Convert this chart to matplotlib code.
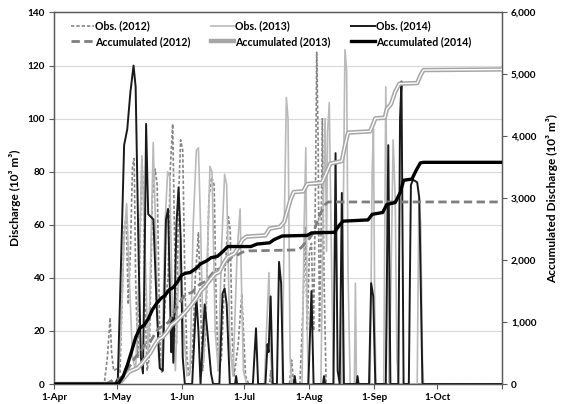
import matplotlib
matplotlib.use("Agg")
import matplotlib.pyplot as plt
from matplotlib.lines import Line2D
from matplotlib.ticker import FuncFormatter

plt.rcParams['font.family'] = ['Lato', 'DejaVu Sans']
plt.rcParams['font.weight'] = 'bold'

# x axis: days since 1-Apr
month_days = [0, 30, 61, 91, 122, 153, 183, 214]
month_labels = ["1-Apr", "1-May", "1-Jun", "1-Jul", "1-Aug", "1-Sep", "1-Oct", ""]

obs2012_day = [0, 24, 25.5, 26.8, 27.5, 28.5, 30.5, 31.5, 32.5, 33.6, 34.5, 35.5, 36.5, 37.5, 38.3, 39, 40,
               41, 42, 42.7, 43.5, 44.5, 45.5, 47, 48.3, 49.3, 50.5, 51.5, 53, 54.5, 55.5, 56.7, 57.5, 58.5,
               59.5, 60.5, 61.5, 62.5, 63.5, 64.5, 66, 67.5, 69, 70, 71, 72.5, 74, 75.3, 76.5, 77.5, 78.5,
               80, 81.5, 83.3, 84.2, 85, 86, 88, 89.7, 90.5, 91.5, 93, 103, 103.5, 104, 112.5, 113.5, 114.5,
               117.5, 119, 120, 121, 122, 123, 124, 125, 125.5, 126.2, 126.8, 127.5, 128.2, 129, 130, 214]
obs2012_val = [0, 0, 10, 25, 12, 5, 6, 4, 30, 60, 62, 30, 50, 82, 85, 40, 10,
               50, 85, 72, 30, 5, 10, 70, 81, 75, 20, 4, 30, 40, 80, 98, 60, 15,
               70, 92, 88, 40, 10, 3, 10, 40, 57, 30, 5, 20, 70, 78, 75, 30, 5,
               10, 40, 63, 58, 20, 3, 15, 34, 20, 3, 0, 0, 5, 0, 0, 9, 0,
               0, 30, 59, 20, 50, 53, 20, 80, 125, 90, 20, 50, 100, 40, 0, 0]

obs2013_day = [0, 30.5, 32, 33.5, 34.7, 36, 37.5, 39, 40.5, 42, 43.5, 45, 46, 47.4, 48.5, 50, 51.5, 53,
               54.3, 55.3, 56.5, 58, 59, 60.5, 62, 63.5, 65, 66.5, 68, 69, 70, 71.5, 73, 74.5, 75.5, 77,
               78.5, 80, 81.5, 82.5, 84, 85.5, 87.5, 88.9, 89.5, 90.5, 92, 100.5, 101.5, 102.7, 103.5,
               104.5, 109, 110, 111, 111.8, 112.8, 113.5, 118.5, 119.5, 120.3, 121, 121.5, 127.5, 128.5,
               129.5, 130.2, 130.7, 131.5, 132.5, 133.5, 137.5, 138.5, 139, 139.8, 140.5, 141.5, 143.5,
               144, 144.5, 151, 152, 152.6, 153.2, 153.8, 157.5, 158.5, 159.2, 160, 161, 162, 163, 163.8,
               164.5, 173.5, 174.3, 175.2, 176, 176.5, 214]
obs2013_val = [0, 0, 20, 55, 68, 40, 10, 5, 40, 86, 50, 10, 40, 91, 60, 10, 5, 60,
               80, 78, 30, 5, 30, 55, 20, 3, 5, 60, 88, 89, 60, 8, 40, 82, 80, 20,
               5, 50, 79, 75, 15, 3, 50, 66, 40, 5, 0, 0, 20, 42, 10,
               0, 0, 60, 108, 100, 10, 0, 0, 60, 89, 20, 0, 0, 60,
               100, 50, 95, 106, 50, 0, 0, 90, 126, 118, 40, 0, 0,
               38, 0, 0, 80, 96, 30, 0, 0, 112, 60, 0, 40, 92, 70, 10,
               0, 0, 70, 60, 10, 0, 0]

obs2014_day = [0, 29, 30.5, 32, 33.5, 35, 36.5, 38, 39, 40.5, 41.5, 42.5, 43.5, 44, 45, 47.5, 49, 50.5,
               52, 53.5, 54.5, 55.5, 56, 56.5, 57, 58.5, 59.5, 60.5, 61.5, 62.5, 66, 68, 69, 70, 72, 73,
               75, 76, 79, 80.5, 81.5, 82.5, 84, 86.5, 87, 87.5, 95, 96.5, 97.5, 101, 102, 102.5, 103.5,
               104.5, 106.5, 107.5, 108.5, 109.5, 114.5, 115, 115.5, 121.5, 123, 124, 128.5, 129, 129.5,
               133.5, 134.5, 135.5, 136.5, 137.5, 138.5, 144.5, 145, 145.5, 150.5, 151.5, 152.5, 153.5,
               158.5, 159.7, 160.7, 164.5, 165.3, 166, 167, 169.5, 170.5, 171.5, 173.5, 174.5, 176, 214]
obs2014_val = [0, 0, 2, 45, 90, 96, 110, 120, 112, 45, 10, 4, 60, 98, 64, 62, 30, 6,
               5, 62, 66, 30, 12, 25, 8, 60, 74, 55, 10, 0, 0, 33, 20, 0, 30, 22,
               4, 0, 0, 34, 36, 30, 0, 0, 3, 0, 0, 21, 0, 0, 15, 12, 33,
               0, 0, 46, 38, 0, 0, 3, 0, 0, 35, 0, 0, 3, 0,
               0, 87, 5, 0, 72, 0, 0, 3, 0, 0, 38, 33, 0,
               0, 90, 0, 0, 100, 114, 0, 0, 75, 77, 76, 70, 0, 0]

# ---- Accumulated discharge (10^3 m^3), knots ----
acc2012_day = [0, 24, 26, 28, 31, 33, 35, 37, 39, 41, 43, 46, 48, 50, 53, 55, 57, 59, 61, 63, 66, 68, 70,
               73, 75, 77, 80, 82, 84, 86, 88, 90, 93, 116, 118, 120, 122, 124, 125, 126.5, 128, 129.5, 131, 214]
acc2012_val = [0, 0, 20, 60, 80, 130, 230, 330, 440, 500, 620, 680, 800, 900, 950, 1010, 1150, 1250, 1370,
               1450, 1480, 1560, 1620, 1660, 1760, 1840, 1870, 1930, 2030, 2070, 2090, 2130, 2150, 2165,
               2200, 2280, 2350, 2450, 2550, 2700, 2800, 2900, 2940, 2940]

acc2013_day = [0, 30, 32, 34, 36, 40, 42, 44, 46, 48, 50, 52, 54, 56, 58, 61, 63, 65, 68, 70, 72, 75, 77,
               79, 81, 83, 86, 88, 90, 92, 101, 103, 108, 110, 111.5, 113, 114.5, 119, 121, 128, 130, 132,
               137.5, 139, 140.5, 151, 152.5, 153.5, 158, 159, 161, 163, 165, 173.5, 175, 176.5, 214]
acc2013_val = [0, 0, 40, 120, 200, 260, 330, 420, 500, 620, 720, 760, 840, 950, 1000, 1100, 1170, 1250,
               1380, 1500, 1570, 1700, 1780, 1810, 1950, 2050, 2100, 2200, 2330, 2380, 2400, 2510, 2540,
               2620, 2800, 2980, 3100, 3110, 3230, 3250, 3400, 3560, 3600, 3850, 4060, 4080, 4200, 4290,
               4300, 4440, 4520, 4720, 4850, 4860, 4980, 5070, 5080]

acc2014_day = [0, 29, 31, 33, 35, 37, 39, 41, 43, 45, 47, 49, 51, 53, 55, 57, 59, 61, 63, 65, 68, 70, 73,
               75, 78, 81, 83, 94, 97, 103, 105, 107, 109, 121, 123, 134, 136, 138, 150, 152, 157, 159,
               163, 165.5, 167, 171, 173, 175, 176.5, 214]
acc2014_val = [0, 0, 20, 120, 300, 520, 750, 900, 950, 1050, 1200, 1300, 1380, 1430, 1520, 1560, 1650,
               1760, 1790, 1800, 1870, 1940, 1990, 2040, 2060, 2150, 2220, 2220, 2260, 2280, 2330, 2360,
               2390, 2400, 2440, 2450, 2550, 2630, 2650, 2740, 2770, 2900, 2930, 3100, 3290, 3310, 3450,
               3570, 3580, 3580]

left_ticks = [0, 20, 40, 60, 80, 100, 120, 140]
right_ticks = [0, 1000, 2000, 3000, 4000, 5000, 6000]

fig = plt.figure(figsize=(5.63, 4.04), dpi=100)
ax = fig.add_axes([0.0959, 0.0495, 0.7957, 0.9196])
ax2 = ax.twinx()

c12_obs, c13_obs, c14_obs = '#858585', '#bababa', '#1a1a1a'
c12_acc, c13_acc, c14_acc = '#7f7f7f', '#a6a6a6', '#000000'

ax.plot(obs2012_day, obs2012_val, color=c12_obs, lw=1.2, ls=(0, (2.0, 1.2)), zorder=3)
ax.plot(obs2013_day, obs2013_val, color=c13_obs, lw=1.2, zorder=3)
ax.plot(obs2014_day, obs2014_val, color=c14_obs, lw=1.4, zorder=4)

ax2.plot(acc2012_day, acc2012_val, color=c12_acc, lw=2.0, ls=(0, (3.0, 1.6)), zorder=3)
ax2.plot(acc2013_day, acc2013_val, color=c13_acc, lw=3.2, zorder=3, solid_joinstyle='round')
ax2.plot(acc2013_day, acc2013_val, color='white', lw=1.0, zorder=3.1)
ax2.plot(acc2014_day, acc2014_val, color=c14_acc, lw=2.4, zorder=4)

ax.set_xlim(0, 214)
ax.set_ylim(0, 140)
ax2.set_ylim(0, 6000)
ax.set_yticks(left_ticks)
ax2.set_yticks(right_ticks)
ax2.yaxis.set_major_formatter(FuncFormatter(lambda v, p: f"{int(v):,}"))
ax.set_xticks(month_days)
ax.set_xticklabels(month_labels)

ax.grid(axis='y', color='#d9d9d9', lw=0.8, zorder=0)
ax.set_axisbelow(True)

for a in (ax, ax2):
    for s in a.spines.values():
        s.set_color('#595959')
        s.set_linewidth(0.9)
    a.tick_params(labelsize=7.2, length=3.5, width=0.8, color='#595959', pad=3)

ax.set_ylabel("Discharge (10³ m³)", fontsize=8.6, fontweight='bold', labelpad=5)
ax2.set_ylabel("Accumulated Discharge (10³ m³)", fontsize=8.6, fontweight='bold', labelpad=7)

handles = [
    Line2D([], [], color=c12_obs, lw=1.2, ls=(0, (2.0, 1.2))),
    Line2D([], [], color=c12_acc, lw=2.0, ls=(0, (3.0, 1.6))),
    Line2D([], [], color=c13_obs, lw=1.2),
    Line2D([], [], color=c13_acc, lw=3.2),
    Line2D([], [], color=c14_obs, lw=1.4),
    Line2D([], [], color=c14_acc, lw=2.4),
]
labels = ["Obs. (2012)", "Accumulated (2012)", "Obs. (2013)", "Accumulated (2013)",
          "Obs. (2014)", "Accumulated (2014)"]
leg = ax2.legend(handles, labels, ncol=3, loc='upper left', bbox_to_anchor=(0.037, 0.978),
                 frameon=False, fontsize=7.7, handlelength=2.2, handletextpad=0.1,
                 columnspacing=1.9, labelspacing=0.38, borderpad=0.0, borderaxespad=0)
for t in leg.get_texts():
    t.set_fontweight('bold')

fig.savefig("out.png", dpi=100)
